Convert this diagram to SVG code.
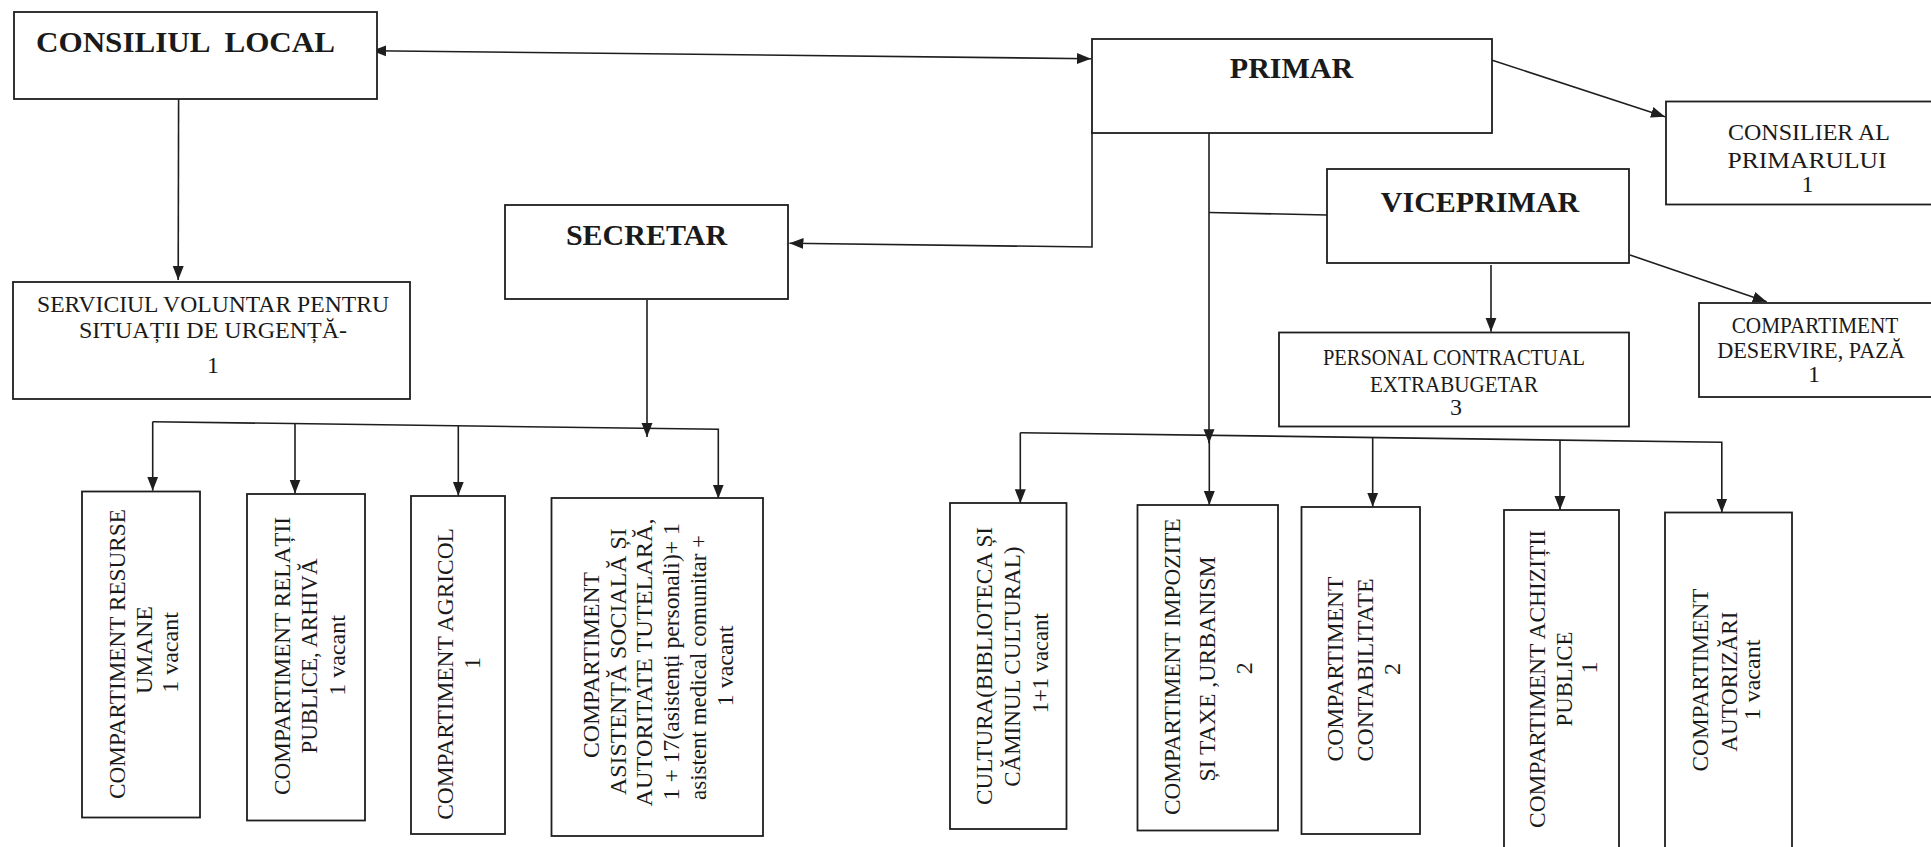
<svg xmlns="http://www.w3.org/2000/svg" width="1931" height="847" viewBox="0 0 1931 847">
<defs>
<marker id="ah" markerUnits="userSpaceOnUse" markerWidth="15" markerHeight="12" refX="14" refY="6" orient="auto-start-reverse">
<path d="M0,0.5 L14,6 L0,11.5 z" fill="#1e1e1e"/>
</marker>
<style>
.box{fill:#fff;stroke:#1e1e1e;stroke-width:1.8}
.ln{fill:none;stroke:#1e1e1e;stroke-width:1.6}
.ar{fill:none;stroke:#1e1e1e;stroke-width:1.6;marker-end:url(#ah)}
text{font-family:"Liberation Serif","Times New Roman",serif;fill:#1a1a1a}
.h{font-weight:bold;font-size:30px}
.t{font-size:24px}
.m{text-anchor:middle}
</style>
</defs>
<rect width="1931" height="847" fill="#fff"/>

<g id="connectors">
<line x1="372" y1="50.7" x2="1091" y2="58.7" class="ln" marker-start="url(#ah)" marker-end="url(#ah)"/>
<line x1="178.6" y1="99" x2="178.2" y2="280" class="ar"/>
<polyline points="1092,131 1092,247 789.5,243.3" class="ar"/>
<line x1="1491.5" y1="60" x2="1665" y2="116.7" class="ar"/>
<line x1="1209" y1="132" x2="1209" y2="443.3" class="ar"/>
<line x1="1209" y1="212.5" x2="1327" y2="215" class="ln"/>
<line x1="1491" y1="265" x2="1491" y2="331.7" class="ar"/>
<line x1="1630" y1="255" x2="1766.7" y2="301.7" class="ar"/>
<line x1="647" y1="300" x2="647" y2="437" class="ar"/>
<polyline points="152.7,421.7 718.3,429.3 718.3,498.5" class="ar"/>
<line x1="152.7" y1="421.7" x2="152.7" y2="490.7" class="ar"/>
<line x1="295" y1="423.6" x2="295" y2="493.5" class="ar"/>
<line x1="458.3" y1="425.8" x2="458.3" y2="495.7" class="ar"/>
<polyline points="1020.3,432.7 1721.8,442.3 1721.8,512.5" class="ar"/>
<line x1="1020.3" y1="432.7" x2="1020.3" y2="503.3" class="ar"/>
<line x1="1209.3" y1="435.3" x2="1209.3" y2="505" class="ar"/>
<line x1="1372.7" y1="437.5" x2="1372.7" y2="506.7" class="ar"/>
<line x1="1560" y1="440.1" x2="1560" y2="510" class="ar"/>
</g>

<g id="consiliul-local">
<rect class="box" x="14" y="12" width="363" height="87"/>
<text class="h" x="36" y="52" xml:space="preserve" textLength="299" lengthAdjust="spacingAndGlyphs">CONSILIUL  LOCAL</text>
</g>

<g id="primar">
<rect class="box" x="1092" y="39" width="400" height="94"/>
<text class="h m" x="1291.5" y="78.3">PRIMAR</text>
</g>

<g id="secretar">
<rect class="box" x="505" y="205" width="283" height="94"/>
<text class="h m" x="646.5" y="245" font-size="31">SECRETAR</text>
</g>

<g id="viceprimar">
<rect class="box" x="1327" y="169" width="302" height="94"/>
<text class="h m" x="1480" y="211.7">VICEPRIMAR</text>
</g>

<g id="serviciul-voluntar">
<rect class="box" x="13" y="282" width="397" height="117"/>
<text class="t m" x="213" y="312" textLength="352" lengthAdjust="spacingAndGlyphs">SERVICIUL VOLUNTAR PENTRU</text>
<text class="t m" x="213" y="338.3">SITUAȚII DE URGENȚĂ-</text>
<text class="t m" x="213" y="373" font-size="27">1</text>
</g>

<g id="consilier">
<rect class="box" x="1666" y="101.5" width="290" height="103"/>
<text class="t m" x="1809" y="140" textLength="162" lengthAdjust="spacingAndGlyphs">CONSILIER AL</text>
<text class="t m" x="1807" y="168.3" textLength="159" lengthAdjust="spacingAndGlyphs">PRIMARULUI</text>
<text class="t m" x="1807.5" y="191.7">1</text>
</g>

<g id="personal-contractual">
<rect class="box" x="1279" y="332.5" width="350" height="94"/>
<text class="t m" x="1454" y="365" textLength="262" lengthAdjust="spacingAndGlyphs">PERSONAL CONTRACTUAL</text>
<text class="t m" x="1454" y="391.7" textLength="168" lengthAdjust="spacingAndGlyphs">EXTRABUGETAR</text>
<text class="t m" x="1456" y="415" font-size="22">3</text>
</g>

<g id="deservire">
<rect class="box" x="1699" y="303" width="250" height="94"/>
<text class="t m" x="1815" y="333.3" textLength="166.7" lengthAdjust="spacingAndGlyphs">COMPARTIMENT</text>
<text class="t m" x="1811" y="358.3" textLength="187.7" lengthAdjust="spacingAndGlyphs">DESERVIRE, PAZĂ</text>
<text class="t m" x="1814" y="381.7" font-size="22">1</text>
</g>

<g id="resurse-umane">
<rect class="box" x="82" y="491.5" width="118" height="326"/>
<text class="t m" transform="translate(125 654) rotate(-90)" textLength="290" lengthAdjust="spacingAndGlyphs">COMPARTIMENT RESURSE</text>
<text class="t m" transform="translate(151.7 650) rotate(-90)">UMANE</text>
<text class="t m" transform="translate(178.3 652.5) rotate(-90)">1 vacant</text>
</g>

<g id="relatii-publice">
<rect class="box" x="247" y="494" width="118" height="326.5"/>
<text class="t m" transform="translate(290 656) rotate(-90)" textLength="278" lengthAdjust="spacingAndGlyphs">COMPARTIMENT RELAȚII</text>
<text class="t m" transform="translate(316.7 656) rotate(-90)" textLength="195" lengthAdjust="spacingAndGlyphs">PUBLICE, ARHIVĂ</text>
<text class="t m" transform="translate(345 655.5) rotate(-90)">1 vacant</text>
</g>

<g id="agricol">
<rect class="box" x="411" y="496" width="94" height="338"/>
<text class="t m" transform="translate(453.3 674) rotate(-90)" textLength="291.7" lengthAdjust="spacingAndGlyphs">COMPARTIMENT AGRICOL</text>
<text class="t m" transform="translate(480 663) rotate(-90)">1</text>
</g>

<g id="asistenta-sociala">
<rect class="box" x="551.5" y="498" width="211.5" height="338"/>
<text class="t m" transform="translate(599 665) rotate(-90)" textLength="186" lengthAdjust="spacingAndGlyphs">COMPARTIMENT</text>
<text class="t m" transform="translate(626 661.7) rotate(-90)" textLength="266.7" lengthAdjust="spacingAndGlyphs">ASISTENȚĂ SOCIALĂ ȘI</text>
<text class="t m" transform="translate(652 662.5) rotate(-90)" textLength="288" lengthAdjust="spacingAndGlyphs">AUTORITATE TUTELARĂ,</text>
<text class="t m" transform="translate(679 661.7) rotate(-90)" textLength="277" lengthAdjust="spacingAndGlyphs">1 + 17(asistenți personali)+ 1</text>
<text class="t m" transform="translate(706 667.5) rotate(-90)" textLength="265" lengthAdjust="spacingAndGlyphs">asistent medical comunitar +</text>
<text class="t m" transform="translate(733 666) rotate(-90)">1 vacant</text>
</g>

<g id="cultura">
<rect class="box" x="950" y="503" width="116.5" height="326"/>
<text class="t m" transform="translate(992 666) rotate(-90)" textLength="278" lengthAdjust="spacingAndGlyphs">CULTURA(BIBLIOTECA ȘI</text>
<text class="t m" transform="translate(1020 666.7) rotate(-90)" textLength="240" lengthAdjust="spacingAndGlyphs">CĂMINUL CULTURAL)</text>
<text class="t m" transform="translate(1048 663.3) rotate(-90)" textLength="100" lengthAdjust="spacingAndGlyphs">1+1 vacant</text>
</g>

<g id="impozite-taxe">
<rect class="box" x="1137.5" y="505" width="140.5" height="325.5"/>
<text class="t m" transform="translate(1180 666.7) rotate(-90)" textLength="296.7" lengthAdjust="spacingAndGlyphs">COMPARTIMENT IMPOZITE</text>
<text class="t m" transform="translate(1215 669) rotate(-90)" textLength="225" lengthAdjust="spacingAndGlyphs">ȘI TAXE ,URBANISM</text>
<text class="t m" transform="translate(1251.7 668.3) rotate(-90)" font-size="30">2</text>
</g>

<g id="contabilitate">
<rect class="box" x="1301.5" y="507" width="118.5" height="327"/>
<text class="t m" transform="translate(1343.3 669) rotate(-90)" textLength="185" lengthAdjust="spacingAndGlyphs">COMPARTIMENT</text>
<text class="t m" transform="translate(1373.3 670) rotate(-90)" textLength="183" lengthAdjust="spacingAndGlyphs">CONTABILITATE</text>
<text class="t m" transform="translate(1400 669) rotate(-90)">2</text>
</g>

<g id="achizitii-publice">
<rect class="box" x="1504" y="510" width="115" height="360"/>
<text class="t m" transform="translate(1545 679) rotate(-90)" textLength="298" lengthAdjust="spacingAndGlyphs">COMPARTIMENT ACHIZIȚII</text>
<text class="t m" transform="translate(1571.7 679) rotate(-90)" textLength="95" lengthAdjust="spacingAndGlyphs">PUBLICE</text>
<text class="t m" transform="translate(1596.7 667.5) rotate(-90)" font-size="17">1</text>
</g>

<g id="autorizari">
<rect class="box" x="1665" y="512.5" width="127" height="360"/>
<text class="t m" transform="translate(1708.3 680) rotate(-90)" textLength="183" lengthAdjust="spacingAndGlyphs">COMPARTIMENT</text>
<text class="t m" transform="translate(1736.7 681.7) rotate(-90)" textLength="140" lengthAdjust="spacingAndGlyphs">AUTORIZĂRI</text>
<text class="t m" transform="translate(1760 680) rotate(-90)" font-size="19">1 vacant</text>
</g>
</svg>
